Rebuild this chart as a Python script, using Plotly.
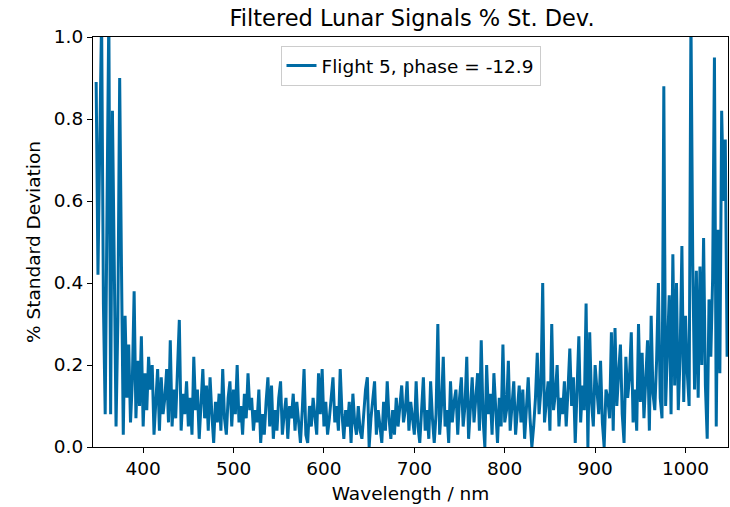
import numpy as np
import plotly.graph_objects as go

# Wavelength grid (nm) and the percentage standard deviation of the filtered lunar signal
wavelength = np.arange(348, 1047, 2)

pct_std_dev = [
    0.89, 0.42, 0.74, 1.05, 0.35, 0.08, 0.58, 1.06, 0.08, 0.82,
    0.45, 0.05, 0.31, 0.90, 0.44, 0.03, 0.32, 0.12, 0.25, 0.06,
    0.16, 0.38, 0.07, 0.21, 0.10, 0.27, 0.05, 0.18, 0.09, 0.22,
    0.14, 0.20, 0.03, 0.11, 0.19, 0.04, 0.17, 0.08, 0.12, 0.19,
    0.06, 0.26, 0.05, 0.14, 0.07, 0.19, 0.31, 0.04, 0.13, 0.08,
    0.16, 0.05, 0.12, 0.03, 0.22, 0.09, 0.14, 0.02, 0.10, 0.19,
    0.07, 0.15, 0.04, 0.17, 0.08, 0.01, 0.11, 0.06, 0.13, 0.04,
    0.19, 0.07, 0.03, 0.12, 0.16, 0.05, 0.14, 0.08, 0.20, 0.06,
    0.10, 0.03, 0.13, 0.07, 0.18, 0.09, 0.12, 0.04, 0.09, 0.06,
    0.14, 0.01, 0.08, 0.03, 0.11, 0.17, 0.05, 0.15, 0.02, 0.09,
    0.04, 0.12, 0.16, 0.03, 0.08, 0.12, 0.02, 0.10, 0.07, 0.13,
    0.04, 0.11, 0.06, 0.01, 0.09, 0.19, 0.03, 0.01, 0.10, 0.05,
    0.12, 0.07, 0.03, 0.18, 0.08, 0.19, 0.05, 0.11, 0.03, 0.07,
    0.12, 0.17, 0.06, 0.10, 0.04, 0.19, 0.08, 0.02, 0.09, 0.05,
    0.11, 0.01, 0.13, 0.06, 0.03, 0.10, 0.04, 0.02, 0.08, 0.14,
    0.17, 0.00, 0.07, 0.12, 0.16, 0.03, 0.09, 0.05, 0.01, 0.11,
    0.04, 0.16, 0.07, 0.02, 0.09, 0.03, 0.12, 0.05, 0.10, 0.15,
    0.06, 0.09, 0.16, 0.04, 0.11, 0.07, 0.03, 0.16, 0.05, 0.01,
    0.10, 0.17, 0.04, 0.09, 0.02, 0.16, 0.07, 0.01, 0.08, 0.30,
    0.03, 0.10, 0.22, 0.05, 0.09, 0.01, 0.16, 0.06, 0.11, 0.14,
    0.03, 0.12, 0.17, 0.05, 0.10, 0.22, 0.02, 0.09, 0.17, 0.06,
    0.11, 0.18, 0.04, 0.26, 0.07, 0.00, 0.20, 0.08, 0.13, 0.03,
    0.18, 0.10, 0.01, 0.12, 0.05, 0.25, 0.06, 0.09, 0.21, 0.04,
    0.11, 0.16, 0.03, 0.08, 0.15, 0.06, 0.14, 0.02, 0.10, 0.17,
    0.07, 0.00, 0.05, 0.12, 0.23, 0.08, 0.14, 0.40, 0.06, 0.11,
    0.16, 0.04, 0.30, 0.09, 0.13, 0.20, 0.05, 0.12, 0.08, 0.16,
    0.05, 0.14, 0.24, 0.10, 0.17, 0.01, 0.12, 0.27, 0.06, 0.15,
    0.09, 0.35, 0.00, 0.28, 0.11, 0.05, 0.20, 0.13, 0.08, 0.21,
    0.06, 0.00, 0.14, 0.12, 0.07, 0.28, 0.04, 0.29, 0.10, 0.18,
    0.25, 0.08, 0.01, 0.22, 0.12, 0.17, 0.28, 0.06, 0.14, 0.04,
    0.30, 0.11, 0.23, 0.07, 0.15, 0.26, 0.04, 0.32, 0.13, 0.09,
    0.21, 0.40, 0.12, 0.07, 0.88, 0.10, 0.24, 0.37, 0.08, 0.47,
    0.15, 0.40, 0.09, 0.22, 0.49, 0.11, 0.32, 0.18, 0.10, 1.05,
    0.45, 0.14, 0.43, 0.12, 0.44, 0.20, 0.51, 0.15, 0.02, 0.36,
    0.22, 0.41, 0.95, 0.05, 0.53, 0.18, 0.82, 0.60, 0.75, 0.22,
]

series_name = "Flight 5, phase = -12.9"
title_text = "Filtered Lunar Signals % St. Dev."
x_label = "Wavelength / nm"
y_label = "% Standard Deviation"

FONT = "DejaVu Sans"
LINE_COLOR = "#006BA4"
TEXT_SIZE = 18.5

fig = go.Figure()
fig.add_trace(go.Scatter(
    x=wavelength,
    y=pct_std_dev,
    mode="lines",
    name=series_name,
    line=dict(color=LINE_COLOR, width=3),
))

axis_common = dict(
    showline=True,
    linecolor="black",
    linewidth=1.2,
    mirror=True,
    ticks="outside",
    ticklen=5,
    tickwidth=1.2,
    tickcolor="black",
    showgrid=False,
    zeroline=False,
    tickfont=dict(family=FONT, size=TEXT_SIZE, color="black"),
)

fig.update_xaxes(
    range=[344.5, 1047],
    tickmode="array",
    tickvals=[400, 500, 600, 700, 800, 900, 1000],
    title=dict(text=x_label, font=dict(family=FONT, size=TEXT_SIZE, color="black"), standoff=8),
    **axis_common,
)
fig.update_yaxes(
    range=[0, 1.0],
    tickmode="array",
    tickvals=[0.0, 0.2, 0.4, 0.6, 0.8, 1.0],
    ticktext=["0.0", "0.2", "0.4", "0.6", "0.8", "1.0"],
    title=dict(text=y_label, font=dict(family=FONT, size=TEXT_SIZE, color="black"), standoff=8),
    **axis_common,
)

fig.update_layout(
    width=730,
    height=507,
    margin=dict(l=93, r=2, t=37, b=60),
    paper_bgcolor="white",
    plot_bgcolor="white",
    font=dict(family=FONT, size=TEXT_SIZE, color="black"),
    title=dict(
        text=title_text,
        x=412 / 730,
        xanchor="center",
        xref="container",
        y=1 - 18 / 507,
        yanchor="middle",
        yref="container",
        font=dict(family=FONT, size=22.5, color="black"),
    ),
    showlegend=True,
    legend=dict(
        x=0.5,
        xanchor="center",
        y=0.978,
        yanchor="top",
        bgcolor="rgba(255,255,255,0.8)",
        bordercolor="#cccccc",
        borderwidth=1,
        font=dict(family=FONT, size=TEXT_SIZE, color="black"),
    ),
)

fig.write_html("out.html")
